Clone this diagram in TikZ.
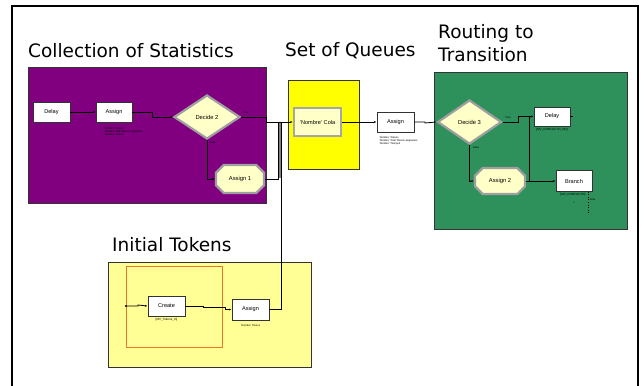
\documentclass[tikz,border=0pt]{standalone}
\usepackage{fontspec}
\setmainfont{Liberation Sans}
\newfontfamily\titlefont{DejaVu Sans}
\usetikzlibrary{shapes.geometric,shapes.misc,arrows.meta}
\definecolor{purp}{RGB}{128,0,128}
\definecolor{qyel}{RGB}{255,255,0}
\definecolor{lyel}{RGB}{255,255,150}
\definecolor{nodeyel}{RGB}{255,255,200}
\definecolor{grn}{RGB}{46,145,92}
\definecolor{orng}{RGB}{235,120,40}
\tikzset{
  region/.style={draw=black!80, line width=0.8pt},
  ttl/.style={font=\titlefont\fontsize{18.5}{20}\selectfont, anchor=base west, inner sep=0},
  pbox/.style={draw=black!80, fill=white, line width=0.9pt, minimum width=37pt, minimum height=20pt, inner sep=0, font=\fontsize{5.6}{6.5}\selectfont},
  decide/.style={diamond, draw=gray!75, line width=2.2pt, fill=nodeyel, minimum width=66pt, minimum height=44pt, inner sep=0, font=\fontsize{5.8}{6.5}\selectfont},
  oct/.style={chamfered rectangle, chamfered rectangle xsep=5pt, chamfered rectangle ysep=5pt, draw=gray!75, line width=2.2pt, fill=nodeyel, minimum width=48pt, minimum height=28pt, inner sep=0, font=\fontsize{5.8}{6.5}\selectfont},
  queue/.style={rectangle, draw=gray!70, line width=2.5pt, fill=nodeyel, minimum width=47pt, minimum height=28pt, inner sep=0, font=\fontsize{5.6}{6.5}\selectfont},
  conn/.style={draw=black, line width=0.8pt},
  arr/.style={conn, -{Latex[length=2.5pt,width=2pt]}},
  tiny/.style={font=\fontsize{2.6}{3.2}\selectfont, inner sep=0, align=left},
  tinyc/.style={font=\fontsize{3}{3.5}\selectfont, inner sep=0}
}
\begin{document}
\begin{tikzpicture}[x=1pt,y=-1pt]
\useasboundingbox (0,0) rectangle (644,385);
\fill[white] (0,0) rectangle (644,385);
% outer frame
\draw[line width=2pt] (12,386) -- (12,6) -- (638,6) -- (638,386);

% regions
\filldraw[region, fill=purp] (28,67) rectangle (266,203);
\filldraw[region, fill=qyel] (288,80) rectangle (359,169);
\filldraw[region, fill=grn] (434,72) rectangle (627,229);
\filldraw[region, fill=lyel] (108,262) rectangle (311,367);
\draw[orng, line width=1pt] (126,266) rectangle (222,347);

% titles
\node[ttl] (t1) at (28,58) {Collection of Statistics};
\node[ttl] (t2) at (285,57) {Set of Queues};
\node[ttl] (t3) at (438,39) {Routing to};
\node[ttl] (t4) at (438,62) {Transition};
\node[ttl] (t5) at (112,251) {Initial Tokens};

% Collection of statistics
\node[pbox] (delay1) at (51.5,112) {Delay};
\node[pbox, minimum width=36pt] (assignA) at (114,112) {Assign};
\node[decide] (decide2) at (207,117) {Decide 2};
\node[oct] (assign1) at (240,179) {Assign 1};
\node[tiny, anchor=north west] (annA) at (104,127) {'Nombre' Tokens\\'Nombre' Total Tokens asignados\\'Nombre' Tiempo};

% Set of queues
\node[queue] (cola) at (317.5,122) {'Nombre' Cola};
\node[pbox] (assignQ) at (395.5,122) {Assign};
\node[tiny, anchor=north west] (annQ) at (379,136) {'Nombre' Tokens\\'Nombre' Total Tokens asignados\\'Nombre' Tiempo2};

% Routing
\node[decide, minimum width=64pt] (decide3) at (469.5,122) {Decide 3};
\node[pbox, minimum width=36pt, minimum height=19pt] (delay3) at (552,116.5) {Delay};
\node[oct, minimum width=50pt, minimum height=26pt] (assign2) at (500,181) {Assign 2};
\node[pbox, minimum width=36pt, minimum height=21pt] (branch) at (574,181) {Branch};
\node[tinyc, anchor=north] (annD3) at (552,128.5) {[MV\_CONFLICTO\_NO]};
\node[tinyc, anchor=north] (annB) at (573,193.5) {[MV\_CONFLICTO]};
\node[tinyc] (plusB) at (574,203) {+};
\node[tiny, anchor=west] (elseB) at (590,200) {Else};
\coordinate (bdot1) at (588,191.5);
\coordinate (bdot2) at (588,214);
\draw[dotted, line width=0.6pt] (bdot1) -- (bdot2);

% Initial tokens
\node[pbox] (create) at (166.5,306) {Create};
\node[pbox, minimum height=21pt] (assignI) at (250.5,309.5) {Assign};
\node[tinyc, anchor=north] (annC) at (166.5,318.5) {[MV\_Tokens\_In]};
\node[tiny, anchor=north] (annI) at (250.5,324) {'Nombre' Tokens};

% connector labels
\node[tiny] (y2) at (246,113) {True};
\node[tiny] (f2) at (213,143) {False};
\node[tiny] (y3) at (508,118) {True};
\node[tiny] (f3) at (476,148) {False};

% junction coordinates
\coordinate (jq) at (281,122);
\coordinate (jg) at (278,122);
\coordinate (cin) at (126,306);

% connectors
\draw[arr] (delay1.east) -- (assignA.west);
\draw[arr] (assignA.east) -- (152,112) -- (152,117) -- (decide2.west);
\draw[arr] (decide2.east) -- (266,117) -- (266,122) -- (cola.west);
\draw[arr] (decide2.south) |- (assign1.west);
\draw[gray, line width=2.5pt] (279.5,123) -- (279.5,178);
\draw[conn] (assign1.east) -- (278,179) -- (jg);
\draw[conn] (assignI.east) -| (jq);
\draw[arr] (cola.east) -- (assignQ.west);
\draw[arr] (assignQ.east) -- (425,122) -- (425,123) -- (decide3.west);
\draw[arr] (decide3.east) -- (518,122) -- (518,116.5) -- (delay3.west);
\draw[conn] (529,116.5) -- (529,181);
\draw[arr] (decide3.south) |- (assign2.west);
\draw[arr] (assign2.east) -- (branch.west);
\draw[conn] (delay3.east) -- ++(3,0);
\fill (cin) circle (1.2pt);
\draw[arr] (cin) -- (138,306) -- (138,305) -- (create.west);
\draw[arr] (create.east) -- (203,306) -- (203,307.5) -- (225,307.5) -- (225,309.5) -- (assignI.west);
\end{tikzpicture}
\end{document}
